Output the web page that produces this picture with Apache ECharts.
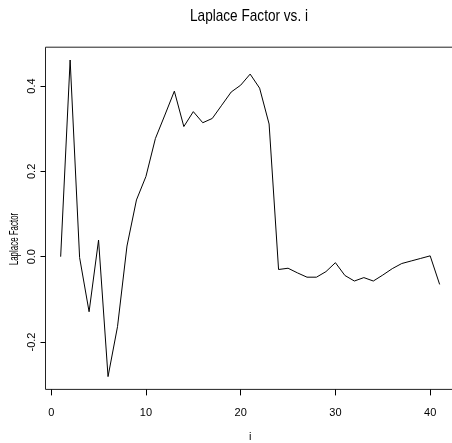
<!DOCTYPE html>
<html>
<head>
<meta charset="utf-8">
<script src="https://cdn.jsdelivr.net/npm/echarts@6/dist/echarts.min.js"></script>
<style>
html,body{margin:0;padding:0;background:#fff;}
#c{width:452px;height:443px;}
</style>
</head>
<body>
<div id="c"></div>
<script>
// Data
var iValues = [1,2,3,4,5,6,7,8,9,10,11,12,13,14,15,16,17,18,19,20,21,22,23,24,25,26,27,28,29,30,31,32,33,34,35,36,37,38,39,40,41];
var laplaceFactor = [0.000,0.461,-0.002,-0.129,0.039,-0.281,-0.164,0.025,0.133,0.188,0.277,0.332,0.388,0.305,0.340,0.314,0.324,0.355,0.386,0.402,0.428,0.395,0.311,-0.030,-0.027,-0.038,-0.048,-0.048,-0.035,-0.014,-0.044,-0.057,-0.049,-0.057,-0.043,-0.028,-0.016,-0.010,-0.004,0.002,-0.065];
var xTicks = [0,10,20,30,40];
var yTicks = [-0.2,0.0,0.2,0.4];
var titleText = 'Laplace Factor vs. i';
var xLabel = 'i';
var yLabel = 'Laplace Factor';

var seriesData = iValues.map(function(x, k){ return [x, laplaceFactor[k]]; });
var FONT = '"Liberation Sans", Arial, Helvetica, sans-serif';

var chart = echarts.init(document.getElementById('c'), null, {renderer:'canvas'});
chart.setOption({
  animation:false,
  backgroundColor:'#fff',
  grid:{
    show:true, left:45.5, top:47.2, right:-2.8, bottom:53.6,
    borderColor:'#222', borderWidth:1, backgroundColor:'transparent',
    containLabel:false, outerBoundsMode:'none'
  },
  xAxis:{
    type:'value', min:-0.6, max:42.6, position:'bottom',
    axisLine:{show:false, onZero:false},
    splitLine:{show:false},
    axisTick:{show:true, length:6, inside:false, customValues:xTicks, lineStyle:{color:'#000', width:1}},
    axisLabel:{show:true, customValues:xTicks, margin:18, color:'#000', fontFamily:FONT, fontSize:11},
    name:xLabel, nameLocation:'middle', nameGap:42,
    nameTextStyle:{color:'#000', fontFamily:FONT, fontSize:11}
  },
  yAxis:{
    type:'value', min:-0.311, max:0.491, position:'left',
    axisLine:{show:false, onZero:false},
    splitLine:{show:false},
    axisTick:{show:true, length:5, inside:false, customValues:yTicks, lineStyle:{color:'#000', width:1}},
    axisLabel:{show:true, customValues:yTicks, rotate:90, margin:8, color:'#000', fontFamily:FONT, fontSize:11,
      formatter:function(v){ return Number(v).toFixed(1); }}
  },
  graphic:[
    {type:'text', x:249, y:16, scaleX:0.8, silent:true,
     style:{text:titleText, fill:'#000', font:'17px ' + FONT, textAlign:'center', textVerticalAlign:'middle'}},
    {type:'text', x:15, y:239, rotation:Math.PI/2, scaleX:0.66, silent:true,
     style:{text:yLabel, fill:'#000', font:'12px ' + FONT, textAlign:'center', textVerticalAlign:'middle'}}
  ],
  series:[{
    type:'line', data:seriesData, showSymbol:false, symbol:'none', silent:true,
    lineStyle:{color:'#000', width:1}, clip:false
  }]
});
</script>
</body>
</html>
